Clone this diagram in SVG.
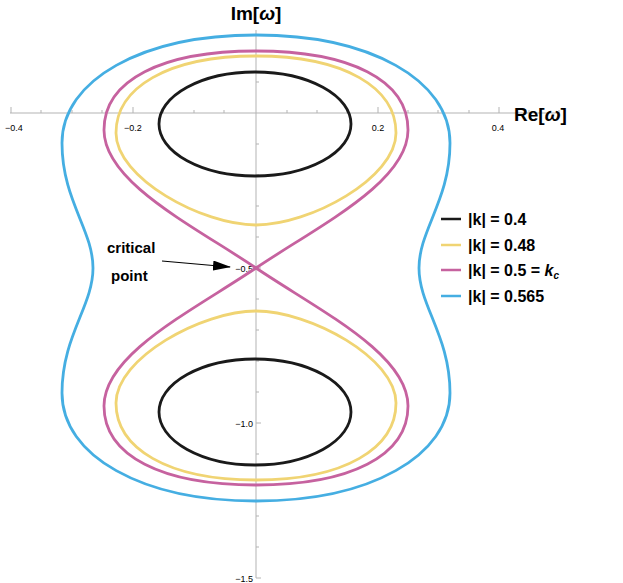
<svg xmlns="http://www.w3.org/2000/svg" width="623" height="583" viewBox="0 0 623 583">
<style>
.ax{stroke:#b3b3b3;stroke-width:1;fill:none}
.tk{font-family:"Liberation Sans",Arial,sans-serif;font-size:9px;fill:#000}
.c{fill:none;stroke-width:2.8}
.lb{font-family:"Liberation Sans",Arial,sans-serif;font-weight:bold;font-size:16px;fill:#000}
.al{font-family:"Liberation Sans",Arial,sans-serif;font-weight:bold;font-size:19px;fill:#000}
</style>
<defs><marker id="ah" markerWidth="18" markerHeight="10" refX="17" refY="5" orient="auto" markerUnits="userSpaceOnUse"><path d="M0,0 L18,5 L0,10 Z" fill="#000"/></marker></defs>
<rect width="623" height="583" fill="#fff"/>
<g id="axes">
<line class="ax" x1="10" y1="113" x2="560" y2="113"/>
<line class="ax" x1="256" y1="30" x2="256" y2="578"/>
<path class="ax" d="M11,113v-6M41,113v-3M72,113v-3M102,113v-3M133,113v-6M163,113v-3M194,113v-3M224,113v-3M287,113v-3M317,113v-3M347,113v-3M378,113v-6M408,113v-3M438,113v-3M469,113v-3M499,113v-6M529,113v-3M559,113v-3"/>
<path class="ax" d="M256,51h3M256,82h3M256,144h3M256,175h3M256,206h3M256,237h3M256,268h5M256,299h3M256,330h3M256,361h3M256,392h3M256,423h5M256,454h3M256,485h3M256,516h3M256,547h3M256,578h5"/>
<text class="tk" x="14" y="131" text-anchor="middle">−0.4</text>
<text class="tk" x="133" y="131" text-anchor="middle">−0.2</text>
<text class="tk" x="378" y="131" text-anchor="middle">0.2</text>
<text class="tk" x="498" y="131" text-anchor="middle">0.4</text>
<text class="tk" x="253" y="272" text-anchor="end">−0.5</text>
<text class="tk" x="253" y="427" text-anchor="end">−1.0</text>
<text class="tk" x="253" y="582" text-anchor="end">−1.5</text>
<text class="al" x="514" y="121">Re[<tspan font-style="italic">ω</tspan>]</text>
<text class="al" x="256" y="20" text-anchor="middle">Im[<tspan font-style="italic">ω</tspan>]</text>
</g>
<g id="curve-0565">
<path class="c" stroke="#45aee2" d="M256,35 C370,35 450,80 450,143 C450,200 419,230 419,268 C419,306 450,336 450,393 C450,456 370,501 256,501 C142,501 62,456 62,393 C62,336 93,306 93,268 C93,230 62,200 62,143 C62,80 142,35 256,35Z"/>
</g>
<g id="curve-05">
<path class="c" stroke="#c6629f" d="M256,268 C320,225 408,182 408,130 C408,80 350,51 256,51 C162,51 104,80 104,130 C104,182 192,225 256,268Z"/>
<path class="c" stroke="#c6629f" transform="matrix(1 0 0 -1 0 536)" d="M256,268 C320,225 408,182 408,130 C408,80 350,51 256,51 C162,51 104,80 104,130 C104,182 192,225 256,268Z"/>
</g>
<g id="curve-048">
<path class="c" stroke="#f0d473" d="M256,56 C345,56 396,88 396,133 C396,178 310,225 256,225 C202,225 116,178 116,133 C116,88 167,56 256,56Z"/>
<path class="c" stroke="#f0d473" transform="matrix(1 0 0 -1 0 536)" d="M256,56 C345,56 396,88 396,133 C396,178 310,225 256,225 C202,225 116,178 116,133 C116,88 167,56 256,56Z"/>
</g>
<g id="curve-04">
<ellipse class="c" stroke="#1a1a1a" cx="255" cy="124" rx="96" ry="52"/>
<ellipse class="c" stroke="#1a1a1a" cx="255" cy="412" rx="96" ry="53"/>
</g>
<g id="annotation">
<text class="lb" x="107" y="253" style="font-size:15px">critical</text>
<text class="lb" x="111" y="281" style="font-size:15px">point</text>
<g id="connectors"><line x1="162" y1="261" x2="230" y2="267" stroke="#000" stroke-width="1.2" marker-end="url(#ah)"/></g>
</g>
<g id="legend">
<line x1="441" y1="219" x2="461" y2="219" stroke="#1a1a1a" stroke-width="2.5"/>
<text class="lb" x="468" y="225">|k| = 0.4</text>
<line x1="441" y1="245" x2="461" y2="245" stroke="#f0d473" stroke-width="2.5"/>
<text class="lb" x="468" y="251">|k| = 0.48</text>
<line x1="441" y1="270" x2="461" y2="270" stroke="#c6629f" stroke-width="2.5"/>
<text class="lb" x="468" y="276">|k| = 0.5 = <tspan font-style="italic">k</tspan><tspan font-style="italic" font-size="10px" dy="3">c</tspan></text>
<line x1="441" y1="296" x2="461" y2="296" stroke="#45aee2" stroke-width="2.5"/>
<text class="lb" x="468" y="302">|k| = 0.565</text>
</g>
</svg>
